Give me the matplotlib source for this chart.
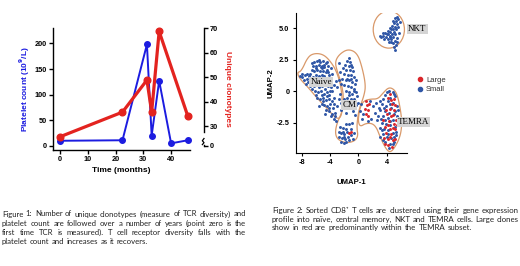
import numpy as np
import matplotlib
matplotlib.use('Agg')
import matplotlib.pyplot as plt
from matplotlib.patches import Ellipse, Polygon
from matplotlib.lines import Line2D
from matplotlib.transforms import blended_transform_factory

# ── Figure 1 data: platelets and clonotypes over time ──
months_plt = [0, 22.5, 31.3, 33, 35.7, 40, 46]
platelets = [10, 11, 198, 20, 127, 5, 11]
months_clo = [0, 22.5, 31.3, 33, 35.7, 46]
clonotypes = [25.6, 35.7, 48.8, 35.7, 68.7, 34.1]

# ── Figure 2 data: UMAP coordinates ──
naive_xy = [
    (-6.2, 2.3), (-5.8, 2.4), (-5.4, 2.3), (-5.0, 2.4), (-4.6, 2.2), (-4.3, 2.0), (-6.4, 2.0),
    (-6.0, 2.0), (-5.6, 2.1), (-5.2, 2.0), (-4.8, 1.9), (-4.4, 1.7), (-6.6, 1.7), (-6.2, 1.6),
    (-5.8, 1.7), (-5.4, 1.6), (-5.0, 1.6), (-4.6, 1.5), (-4.2, 1.3), (-6.0, 1.3), (-5.6, 1.2),
    (-5.2, 1.3), (-4.8, 1.2), (-4.0, 1.0), (-6.4, 1.1), (-5.9, 0.9), (-4.5, 0.8), (-3.8, 1.4),
    (-5.3, 1.9), (-4.9, 2.1),
    (-8.2, 1.2), (-7.9, 1.1), (-7.6, 1.3), (-7.3, 1.0), (-7.0, 1.2), (-6.8, 0.9), (-7.7, 0.9),
    (-7.1, 0.7), (-6.6, 0.6),
    (-6.3, 0.4), (-5.9, 0.5), (-5.5, 0.3), (-5.1, 0.4), (-4.7, 0.2), (-4.3, 0.4), (-3.9, 0.3),
    (-6.1, 0.0), (-5.7, -0.1), (-5.3, 0.0), (-4.9, -0.2), (-4.5, -0.1), (-4.1, -0.3), (-3.7, 0.0),
    (-5.8, -0.5), (-5.4, -0.6), (-5.0, -0.5), (-4.6, -0.7), (-4.2, -0.6), (-3.8, -0.8), (-3.4, -0.5),
    (-5.2, -1.0), (-4.8, -1.1), (-4.4, -1.2), (-4.0, -1.0), (-3.6, -1.3), (-4.6, -1.5), (-4.1, -1.6),
    (-3.7, -1.8), (-3.3, -1.7), (-3.5, -2.2), (-3.1, -2.4), (-3.0, -1.2), (-3.2, 0.8), (-3.0, 0.3),
    (-2.8, -0.6),
    (-6.5, 2.2), (-5.6, 2.5), (-4.4, 2.3), (-6.8, 1.4), (-6.0, 1.8), (-5.1, 1.8), (-4.3, 1.5),
    (-3.9, 1.8), (-5.4, 1.0), (-5.0, 0.9), (-4.2, 0.7), (-6.5, 0.2), (-5.6, 0.6), (-4.9, 0.6),
    (-4.0, 0.0), (-3.5, 0.5), (-6.0, -0.3), (-5.2, -0.3), (-4.4, -0.4), (-3.5, -1.0), (-5.0, -0.8),
    (-4.2, -1.3), (-3.9, -2.0), (-3.3, -2.0), (-7.4, 0.6), (-8.0, 1.4), (-7.2, 1.4), (-6.9, 0.4),
    (-5.5, -1.2), (-4.7, -1.8),
]
cm_xy = [
    (-1.6, 2.4), (-1.2, 2.3), (-1.9, 2.1), (-1.4, 2.0), (-1.0, 2.1), (-2.2, 1.8), (-1.7, 1.7),
    (-1.2, 1.7), (-0.8, 1.6), (-2.0, 1.4), (-1.5, 1.3), (-1.1, 1.3), (-0.7, 1.1), (-2.3, 1.0),
    (-1.8, 0.9), (-1.3, 0.9), (-0.9, 0.7), (-0.5, 0.6), (-2.0, 0.5), (-1.5, 0.4), (-1.1, 0.3),
    (-0.7, 0.2), (-1.8, 0.0), (-1.3, -0.1), (-0.9, -0.2), (-0.4, -0.1), (-1.6, -0.5), (-1.1, -0.6),
    (-0.6, -0.6), (-0.2, -0.4), (-1.9, -1.0), (-0.4, -1.1), (0.0, -0.9), (-2.4, -1.5), (-1.8, -1.7),
    (-0.8, -1.6), (-2.6, -0.2), (-2.5, 0.6), (-0.3, 0.9),
    (-2.7, 2.2), (-2.6, 1.5), (-2.7, 0.9), (-2.5, -0.9),
    (-1.4, 2.6), (-0.9, 1.9), (-1.6, 1.0), (-1.0, 1.0), (-0.6, 0.0), (-1.4, -0.3), (-2.1, -0.6),
    (-1.2, -1.3), (-0.5, -1.9),
    (-2.6, -2.8), (-2.2, -2.9), (-1.8, -3.0), (-2.8, -3.2), (-2.4, -3.3), (-2.0, -3.4), (-1.6, -3.2),
    (-1.0, -3.0), (-2.7, -3.6), (-2.3, -3.7), (-1.9, -3.8), (-1.5, -3.6), (-1.1, -3.5), (-2.5, -4.0),
    (-2.1, -4.1), (-1.7, -4.0), (-0.8, -3.8), (-1.3, -2.6), (-0.9, -2.5),
    (-2.2, -3.2), (-1.4, -3.9), (-2.0, -3.6), (-1.8, -2.6), (-0.6, -3.3),
]
bridge_xy = [
    (0.4, -1.0), (0.7, -1.8), (1.6, -0.8), (2.0, -1.2), (2.3, -1.7), (1.8, -2.2), (0.5, -2.2),
    (2.5, -0.9), (2.6, -2.3), (1.3, -2.4), (0.2, -1.6),
]
temra_xy = [
    (4.3, 0.0), (4.8, -0.1), (3.8, -0.3), (4.5, -0.5), (5.2, -0.4), (3.5, -0.6), (4.1, -0.8),
    (4.9, -0.9), (3.3, -1.0), (3.9, -1.2), (4.6, -1.3), (5.4, -1.2), (3.1, -1.5), (3.7, -1.6),
    (4.3, -1.7), (5.0, -1.8), (3.5, -2.0), (4.1, -2.1), (4.8, -2.3), (5.5, -2.0), (3.3, -2.5),
    (3.9, -2.6), (4.5, -2.7), (5.2, -2.8), (3.6, -3.0), (4.2, -3.1), (4.9, -3.3), (3.4, -3.4),
    (4.0, -3.6), (4.6, -3.7), (5.3, -3.5), (3.8, -4.0), (4.4, -4.2), (5.0, -4.0), (3.0, -2.9),
    (2.8, -2.0), (3.0, -0.8), (5.6, -1.5),
    (4.0, -0.1), (5.0, -0.2), (3.6, -1.3), (4.4, -1.0), (5.2, -1.6), (3.2, -2.2), (3.8, -2.3),
    (4.5, -2.4), (5.6, -2.4), (3.3, -3.1), (4.1, -3.4), (5.0, -3.6), (3.5, -3.9), (4.3, -4.5),
    (4.8, -4.2), (5.3, -3.2), (2.9, -1.3), (3.1, -3.6),
]
nkt_xy = [
    (5.6, 5.7), (5.3, 5.6), (5.8, 5.5), (5.0, 5.4), (5.4, 5.3), (4.7, 5.2), (5.1, 5.1), (5.6, 5.1),
    (4.4, 5.0), (4.8, 4.9), (5.3, 4.9), (4.1, 4.8), (4.5, 4.7), (5.0, 4.7), (3.8, 4.6), (4.2, 4.5),
    (4.7, 4.5), (5.2, 4.5), (3.5, 4.4), (3.9, 4.3), (4.4, 4.3), (4.9, 4.3), (3.2, 4.3), (3.6, 4.1),
    (4.1, 4.1), (4.6, 4.1), (5.1, 4.0), (3.0, 4.4), (4.3, 3.9), (4.8, 3.8), (5.3, 3.7), (5.0, 3.5),
    (5.5, 3.9), (5.7, 4.6), (5.5, 5.9),
    (5.2, 5.8), (4.9, 5.6), (4.6, 4.9), (4.0, 4.5), (3.4, 4.6), (4.5, 4.4), (5.4, 4.2), (4.6, 3.9),
    (5.2, 3.3),
]
large_xy = [
    (-1.3, -3.3), (-1.0, -3.2),
    (1.0, -0.8), (1.2, -1.1), (0.9, -1.4), (1.4, -1.5), (1.1, -1.8), (1.5, -1.0), (1.3, -2.0),
    (4.5, -0.2), (5.0, -0.6), (4.2, -0.5), (4.7, -1.0), (5.2, -1.1), (4.4, -1.4), (5.0, -1.5),
    (4.0, -1.8), (4.6, -2.0), (5.3, -2.3), (4.3, -2.4), (5.0, -2.6), (3.7, -2.8), (4.4, -3.0),
    (5.1, -3.0), (3.9, -3.3), (4.6, -3.4), (4.2, -3.8), (4.8, -3.9), (3.6, -3.7), (4.1, -4.3),
    (4.7, -4.4), (3.9, -1.5), (5.5, -2.7), (3.5, -2.3),
    (4.9, -1.9), (4.1, -2.7), (4.8, -2.9), (4.4, -3.6), (3.8, -4.2), (5.2, -3.8), (4.6, -0.7),
]

# cluster outlines
naive_hull = [(-8.65, 1.48), (-8.05, 1.59), (-7.12, 2.74), (-6.19, 3.01), (-5.02, 2.93),
              (-4.09, 2.47), (-3.16, 1.67), (-2.47, 0.46), (-2.23, -1.16), (-2.47, -2.10),
              (-3.16, -2.18), (-4.33, -1.42), (-5.72, -0.62), (-7.12, 0.32), (-8.28, 0.99)]
cm_hull = [(-1.44, 3.36), (-0.14, 3.01), (0.56, 1.80), (1.02, 0.46), (0.79, -0.35), (0.09, -1.42),
           (-0.14, -2.23), (-0.23, -2.90), (-0.05, -3.58), (-0.60, -3.98), (-1.77, -4.11),
           (-2.93, -3.84), (-3.30, -3.31), (-3.02, -2.50), (-2.23, -1.56), (-2.09, -0.35),
           (-2.47, 0.73), (-3.05, 1.67), (-3.30, 2.34), (-2.70, 2.93)]
temra_hull = [(0.33, -1.16), (0.79, -0.75), (1.72, -0.62), (2.74, -0.62), (3.49, -0.13),
              (4.28, 0.32), (5.07, 0.13), (5.53, -0.40), (5.91, -1.42), (6.14, -2.50),
              (5.91, -3.58), (5.07, -4.52), (4.42, -4.87), (3.81, -4.52), (3.02, -3.58),
              (2.56, -2.90), (1.95, -2.55), (1.02, -2.55), (0.23, -2.82), (-0.05, -2.37),
              (0.09, -1.69)]

captions_1 = [
    "Figure 1: Number of unique clonotypes (measure of TCR diversity) and",
    "platelet count are followed over a number of years (point zero is the",
    "first time TCR is measured). T cell receptor diversity falls with the",
    "platelet count and increases as it recovers.",
]
captions_2 = [
    "Figure 2: Sorted CD8\u207a T cells are clustered using their gene expression",
    "profile into na\u00efve, central memory, NKT and TEMRA cells. Large clones",
    "show in red are predominantly within the TEMRA subset.",
]

BLUE = "#1c1ce0"
RED = "#e3231f"
PT_BLUE = "#2f56a6"
PT_RED = "#d9262b"
HULL = "#d9996a"

plt.rcParams['font.family'] = ['Liberation Sans', 'DejaVu Sans']
W, H = 520, 266
fig = plt.figure(figsize=(W / 100, H / 100), dpi=100)


def fx(px):
    return px / W


def fy(py):
    return 1 - py / H


# ════════════════ Figure 1 ════════════════
ax = fig.add_axes([fx(53), fy(150), fx(137), 122 / H])
ax.plot(months_plt, platelets, color=BLUE, lw=1.4, marker='o', ms=4, zorder=3, clip_on=False)
ax.set_xlim(-2.5, 46.8)
ax.set_ylim(-8, 230)
ax.set_xticks([0, 10, 20, 30, 40])
ax.set_yticks([0, 50, 100, 150, 200])
for s in ['top', 'right']:
    ax.spines[s].set_visible(False)
for s in ['left', 'bottom']:
    ax.spines[s].set_linewidth(1.0)
ax.tick_params(direction='out', length=3, width=1, labelsize=5.3, pad=1.5)
for lab in ax.get_xticklabels() + ax.get_yticklabels():
    lab.set_fontweight('bold')
ax.set_xlabel("Time (months)", fontsize=6, fontweight='bold', labelpad=3)
ax.set_ylabel("Platelet count (10$^\\mathbf{9}$/L)", fontsize=6, fontweight='bold',
              color=BLUE, labelpad=2)

ax2 = ax.twinx()
ax2.plot(months_clo, clonotypes, color=RED, lw=2.3, marker='o', ms=4.8, zorder=3, clip_on=False)
ax2.set_ylim(20.2, 70.1)
ax2.set_yticks([21.9, 30, 40, 50, 60, 70])
ax2.set_yticklabels(['0', '30', '40', '50', '60', '70'])
for s in ['top', 'left', 'bottom']:
    ax2.spines[s].set_visible(False)
ax2.spines['right'].set_position(('outward', 10))
ax2.spines['right'].set_bounds(27.7, 70)
ax2.spines['right'].set_linewidth(1.0)
ax2.tick_params(direction='out', length=3, width=1, labelsize=5.3, pad=1.5)
for lab in ax2.get_yticklabels():
    lab.set_fontweight('bold')
ax2.set_ylabel("Unique clonotypes", fontsize=6, fontweight='bold', color=RED,
               rotation=270, labelpad=9)
# axis break squiggle
bt = blended_transform_factory(ax2.transAxes, ax2.transData)
xs = 1 + 14 / 137
ax2.plot([xs, xs - 0.012, xs, xs - 0.012], [24.9, 24.0, 23.2, 22.4], color='black', lw=0.9,
         transform=bt, clip_on=False)
ax2.plot([xs, xs], [22.4, 21.9], color='black', lw=1.0, transform=bt, clip_on=False)

# ════════════════ Figure 2 ════════════════
bx = fig.add_axes([fx(295.7), fy(153), fx(111), 140 / H])
bx.set_xlim(-8.85, 6.8)
bx.set_ylim(-4.9, 6.2)


def smooth(pts, n=3):
    p = np.array(pts, float)
    for _ in range(n):
        q = np.roll(p, -1, axis=0)
        p = np.stack([0.75 * p + 0.25 * q, 0.25 * p + 0.75 * q], axis=1).reshape(-1, 2)
    return p


for hull in [naive_hull, cm_hull, temra_hull]:
    bx.add_patch(Polygon(smooth(hull), closed=True, fill=False, ec=HULL, lw=0.9, zorder=1))
bx.add_patch(Ellipse((4.28, 4.89), 4.4, 2.95, fill=False, ec=HULL, lw=0.9, zorder=1))

small = naive_xy + cm_xy + bridge_xy + temra_xy + nkt_xy
bx.scatter([p[0] for p in small], [p[1] for p in small], s=4.5, color=PT_BLUE, lw=0, zorder=2)
bx.scatter([p[0] for p in large_xy], [p[1] for p in large_xy], s=4.5, color=PT_RED, lw=0, zorder=3)

box = dict(boxstyle='square,pad=0.12', fc='#d4d4d4', ec='none')
for txt, (x, y) in [("Naive", (-5.26, 0.73)), ("CM", (-1.31, -1.1)),
                    ("TEMRA", (7.76, -2.45)), ("NKT", (8.3, 4.94))]:
    bx.text(x, y, txt, fontsize=6.5, family='Liberation Serif', ha='center', va='center',
            bbox=box, zorder=4, clip_on=False)

bx.set_xticks([-8, -4, 0, 4])
bx.set_yticks([-2.5, 0, 2.5, 5.0])
bx.set_yticklabels(['-2.5', '0', '2.5', '5.0'])
bx.set_xticklabels(['-8', '-4', '0', '4'])
for s in ['top', 'right']:
    bx.spines[s].set_visible(False)
bx.tick_params(direction='out', length=2.5, width=0.8, labelsize=5.3, pad=2, colors='black')
for lab in bx.get_xticklabels() + bx.get_yticklabels():
    lab.set_fontweight('bold')
bx.set_xlabel("UMAP-1", fontsize=5.6, fontweight='bold', labelpad=9)
bx.set_ylabel("UMAP-2", fontsize=5.6, fontweight='bold', labelpad=1.5)

handles = [Line2D([], [], ls='none', marker='o', ms=3, color=PT_RED, label='Large'),
           Line2D([], [], ls='none', marker='o', ms=3, color=PT_BLUE, label='Small')]
fig.legend(handles=handles, loc='center left', bbox_to_anchor=(fx(413), fy(85)),
           frameon=False, fontsize=5.5, handlelength=0.8, handletextpad=0.4,
           labelspacing=0.25, borderpad=0, labelcolor='#333333')

# ════════════════ captions ════════════════
renderer = fig.canvas.get_renderer()
CAP_FAMILY = ['Lato', 'DejaVu Sans']


def width_of(s, size):
    t = fig.text(0, 0, s, fontsize=size, family=CAP_FAMILY)
    w = t.get_window_extent(renderer).width
    t.remove()
    return w


def line_need(line, size):
    # word widths plus a plain word space (0.3 em) between words
    words = line.split()
    em = size * 100 / 72
    return sum(width_of(w, size) for w in words) + 0.3 * em * (len(words) - 1)


def justified(lines, x0, x1, y0, dy):
    size = 6.0
    for _ in range(5):
        widest = max(line_need(l, size) for l in lines[:-1])
        size *= (x1 - x0) / widest
    cap = dict(fontsize=size, family=CAP_FAMILY, color='#222222', va='center')
    for i, line in enumerate(lines):
        y = fy(y0 + i * dy)
        words = line.split()
        widths = [width_of(w, size) for w in words]
        if i == len(lines) - 1:
            gap = 0.3 * size * 100 / 72
        else:
            gap = ((x1 - x0) - sum(widths)) / (len(words) - 1)
        x = x0
        for w, wd in zip(words, widths):
            fig.text(fx(x), y, w, ha='left', **cap)
            x += wd + gap


justified(captions_1, 2, 246, 214, 9.2)
justified(captions_2, 272, 519, 210.7, 8.5)

fig.savefig("out.png", dpi=100)
